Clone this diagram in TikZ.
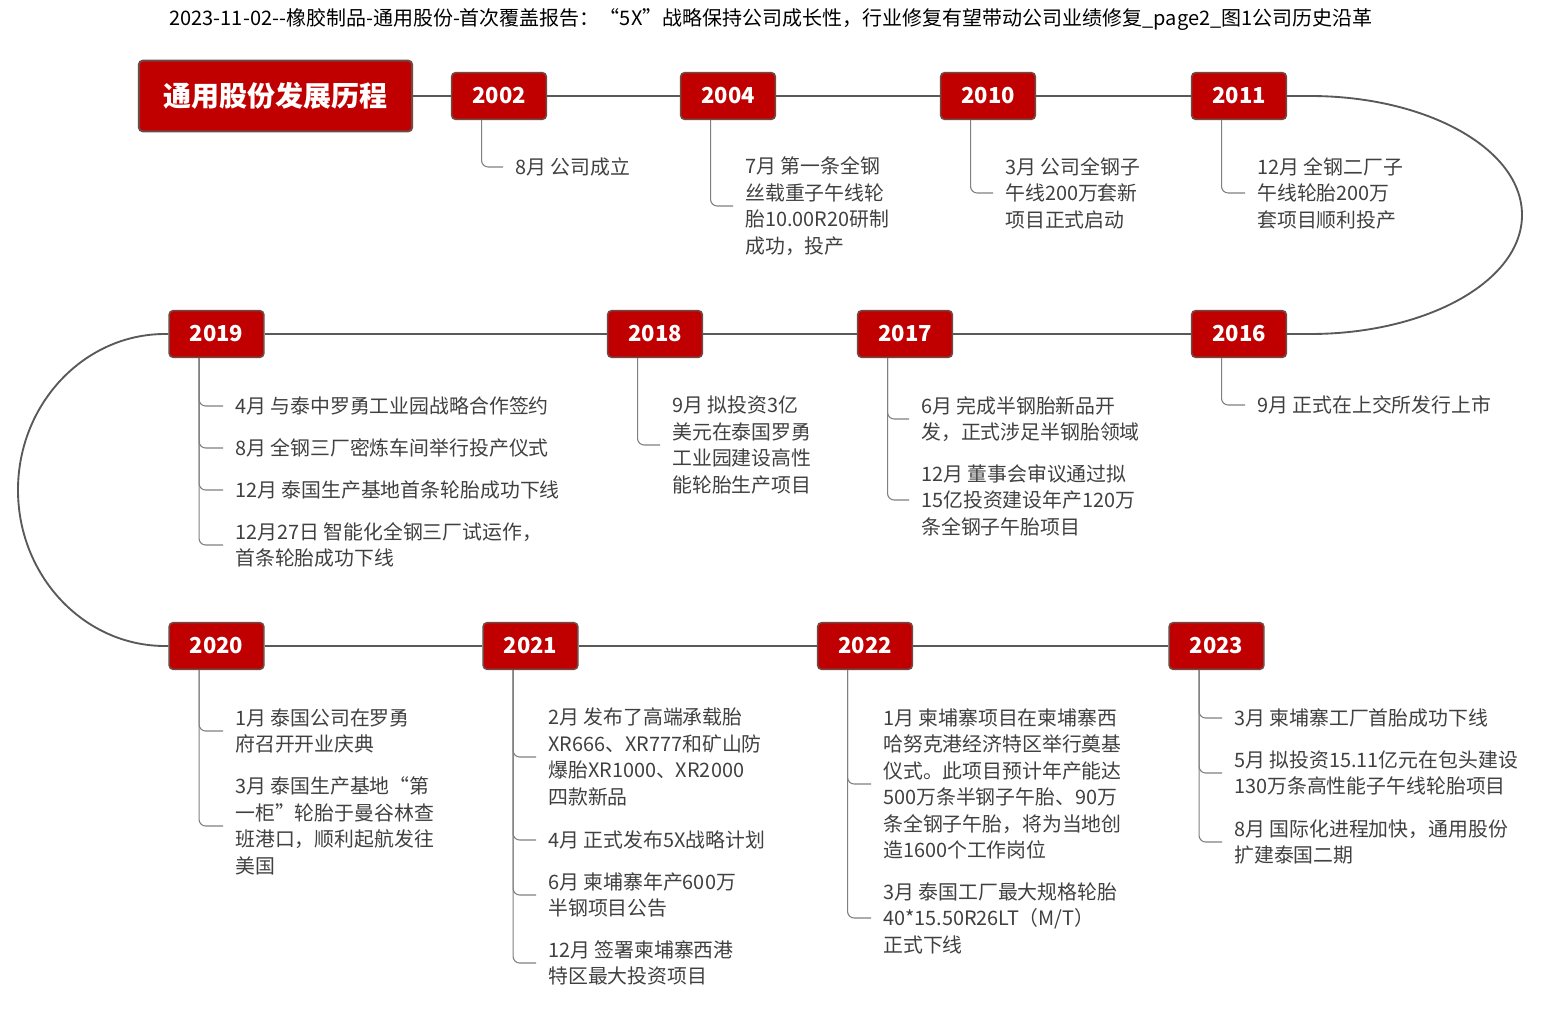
\documentclass[tikz,border=0pt]{standalone}
\usepackage{fontspec}
\setmainfont{Noto Sans CJK SC}
\definecolor{boxred}{HTML}{C00000}
\definecolor{boxedge}{HTML}{6E4B45}
\definecolor{mainline}{HTML}{595959}
\definecolor{brline}{HTML}{7F7F7F}
\definecolor{txt}{HTML}{404040}
\newcommand\mybr[2]{\draw[branch] ([xshift=23pt]#1.south west) |- ([xshift=-9pt]#2.west);}
\begin{document}
\begin{tikzpicture}[x=0.75pt,y=-0.75pt,
  yearbox/.style={fill=boxred,draw=boxedge,line width=1.2pt,rounded corners=3pt,
    text=white,font=\fontsize{16.5pt}{18pt}\selectfont\bfseries,
    minimum width=71pt,minimum height=35pt,inner sep=0pt},
  titlebox/.style={fill=boxred,draw=boxedge,line width=1.5pt,rounded corners=3pt,
    text=white,font=\fontsize{21pt}{24pt}\selectfont\bfseries,
    minimum width=205pt,minimum height=53pt,inner sep=0pt},
  item/.style={anchor=west,inner sep=0pt,align=left,text=txt,
    font=\fontsize{14.9pt}{19.9pt}\selectfont},
  mainln/.style={draw=mainline,line width=1.4pt},
  branch/.style={draw=brline,line width=0.8pt,rounded corners=5pt}]
\useasboundingbox (0,0) rectangle (1542,1009);
\node[font=\fontsize{15pt}{16pt}\selectfont,text=black] (hdr) at (771,20)
  {2023-11-02-{}-橡胶制品-通用股份-首次覆盖报告：“5X”战略保持公司成长性，行业修复有望带动公司业绩修复\_page2\_图1公司历史沿革};
% boxes
\node[titlebox] (title) at (275.5,96) {通用股份发展历程};
\node[yearbox] (y2002) at (499,96) {2002};
\node[yearbox] (y2004) at (728,96) {2004};
\node[yearbox] (y2010) at (988,96) {2010};
\node[yearbox] (y2011) at (1239,96) {2011};
\node[yearbox] (y2016) at (1239,334) {2016};
\node[yearbox] (y2017) at (905,334) {2017};
\node[yearbox] (y2018) at (655,334) {2018};
\node[yearbox] (y2019) at (216.5,334) {2019};
\node[yearbox] (y2020) at (216.5,646) {2020};
\node[yearbox] (y2021) at (530.5,646) {2021};
\node[yearbox] (y2022) at (865,646) {2022};
\node[yearbox] (y2023) at (1216.5,646) {2023};
% main timeline
\draw[mainln] (title) -- (y2002) -- (y2004) -- (y2010) -- (y2011);
\draw[mainln] (y2016) -- (y2017) -- (y2018) -- (y2019);
\draw[mainln] (y2020) -- (y2021) -- (y2022) -- (y2023);
\coordinate (r1) at (1310,96);
\coordinate (r2) at (1310,334);
\coordinate (l1) at (165,334);
\coordinate (l2) at (165,646);
\draw[mainln] (y2011.east) -- (r1) .. controls (1427,96) and (1522,149) .. (1522,215)
   .. controls (1522,281) and (1427,334) .. (r2) -- (y2016.east);
\draw[mainln] (y2019.west) -- (l1) .. controls (84,334) and (18,404) .. (18,490)
   .. controls (18,576) and (84,646) .. (l2) -- (y2020.west);
% items
\node[item] (i2002a) at (515,167) {8月 公司成立};
\node[item] (i2004a) at (745,206) {7月 第一条全钢\\丝载重子午线轮\\胎10.00R20研制\\成功，投产};
\node[item] (i2010a) at (1005,193) {3月 公司全钢子\\午线200万套新\\项目正式启动};
\node[item] (i2011a) at (1257,193) {12月 全钢二厂子\\午线轮胎200万\\套项目顺利投产};
\node[item] (i2016a) at (1257,405) {9月 正式在上交所发行上市};
\node[item] (i2017a) at (921,419) {6月 完成半钢胎新品开\\发，正式涉足半钢胎领域};
\node[item] (i2017b) at (921,500) {12月 董事会审议通过拟\\15亿投资建设年产120万\\条全钢子午胎项目};
\node[item] (i2018a) at (672,445) {9月 拟投资3亿\\美元在泰国罗勇\\工业园建设高性\\能轮胎生产项目};
\node[item] (i2019a) at (235,406) {4月 与泰中罗勇工业园战略合作签约};
\node[item] (i2019b) at (235,448) {8月 全钢三厂密炼车间举行投产仪式};
\node[item] (i2019c) at (235,490) {12月 泰国生产基地首条轮胎成功下线};
\node[item] (i2019d) at (235,545) {12月27日 智能化全钢三厂试运作，\\首条轮胎成功下线};
\node[item] (i2020a) at (235,731) {1月 泰国公司在罗勇\\府召开开业庆典};
\node[item] (i2020b) at (235,826) {3月 泰国生产基地“第\\一柜”轮胎于曼谷林查\\班港口，顺利起航发往\\美国};
\node[item] (i2021a) at (548,757) {2月 发布了高端承载胎\\XR666、XR777和矿山防\\爆胎XR1000、XR2000\\四款新品};
\node[item] (i2021b) at (548,840) {4月 正式发布5X战略计划};
\node[item] (i2021c) at (548,895) {6月 柬埔寨年产600万\\半钢项目公告};
\node[item] (i2021d) at (548,963) {12月 签署柬埔寨西港\\特区最大投资项目};
\node[item] (i2022a) at (883,784) {1月 柬埔寨项目在柬埔寨西\\哈努克港经济特区举行奠基\\仪式。此项目预计年产能达\\500万条半钢子午胎、90万\\条全钢子午胎，将为当地创\\造1600个工作岗位};
\node[item] (i2022b) at (883,918) {3月 泰国工厂最大规格轮胎\\40*15.50R26LT（M/T）\\正式下线};
\node[item] (i2023a) at (1234,718) {3月 柬埔寨工厂首胎成功下线};
\node[item] (i2023b) at (1234,773) {5月 拟投资15.11亿元在包头建设\\130万条高性能子午线轮胎项目};
\node[item] (i2023c) at (1234,842) {8月 国际化进程加快，通用股份\\扩建泰国二期};
% branches
\mybr{y2002}{i2002a}
\mybr{y2004}{i2004a}
\mybr{y2010}{i2010a}
\mybr{y2011}{i2011a}
\mybr{y2016}{i2016a}
\mybr{y2017}{i2017a}
\mybr{y2017}{i2017b}
\mybr{y2018}{i2018a}
\mybr{y2019}{i2019a}
\mybr{y2019}{i2019b}
\mybr{y2019}{i2019c}
\mybr{y2019}{i2019d}
\mybr{y2020}{i2020a}
\mybr{y2020}{i2020b}
\mybr{y2021}{i2021a}
\mybr{y2021}{i2021b}
\mybr{y2021}{i2021c}
\mybr{y2021}{i2021d}
\mybr{y2022}{i2022a}
\mybr{y2022}{i2022b}
\mybr{y2023}{i2023a}
\mybr{y2023}{i2023b}
\mybr{y2023}{i2023c}
\end{tikzpicture}
\end{document}
